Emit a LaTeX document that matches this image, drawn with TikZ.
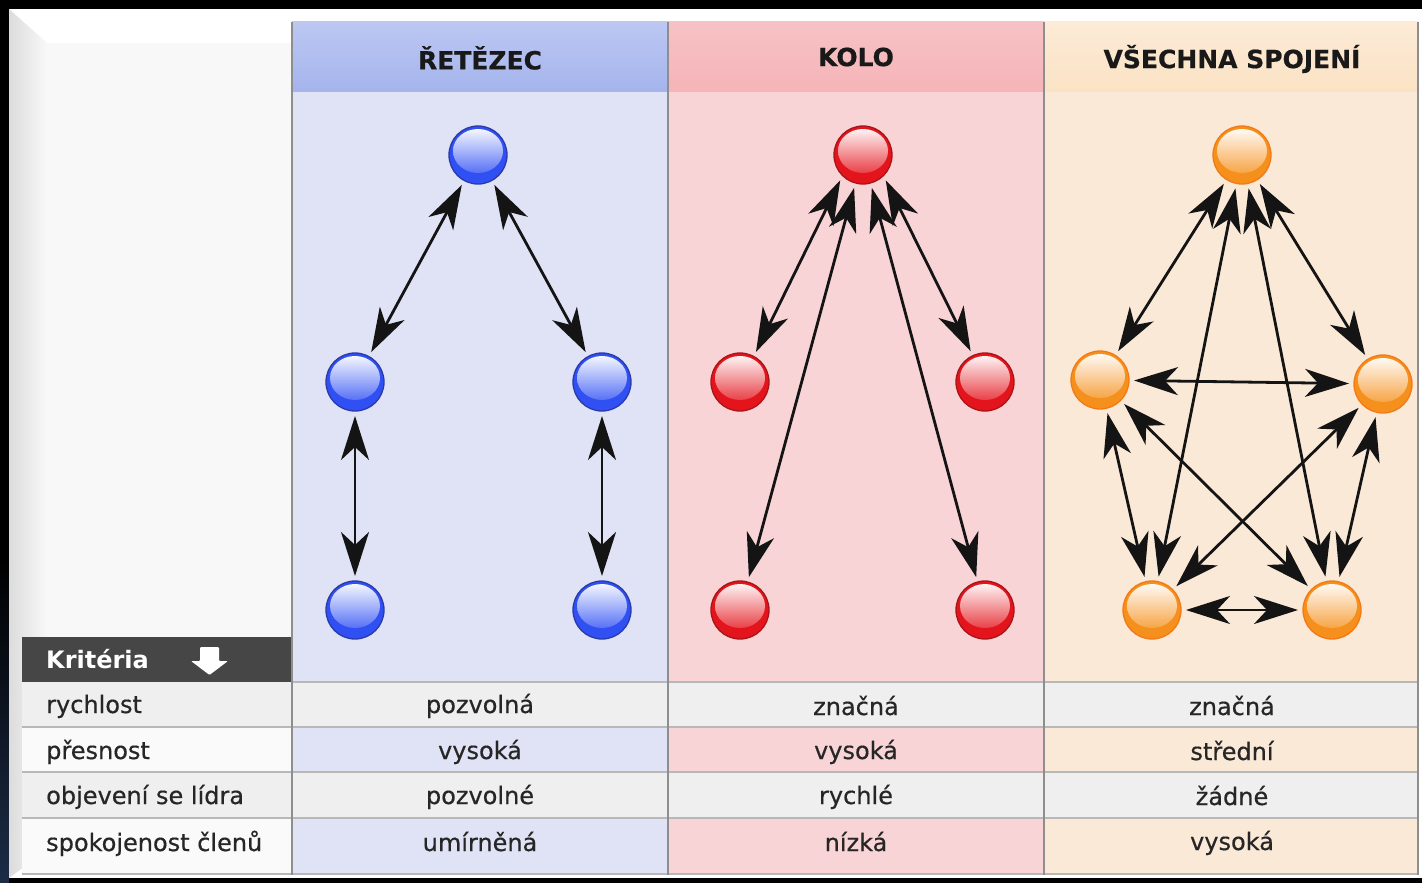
\documentclass[tikz,border=0pt]{standalone}
\usepackage{fontspec}
\setmainfont{DejaVu Sans}
\usetikzlibrary{arrows.meta,calc}
\definecolor{panelbg}{HTML}{F8F8F8}
\definecolor{bevelgray}{HTML}{DCDCDC}
\definecolor{bluehead}{HTML}{A4B4EC}
\definecolor{blueheadtop}{HTML}{BCC7F2}
\definecolor{bluebody}{HTML}{DFE3F5}
\definecolor{redhead}{HTML}{F5B4B8}
\definecolor{redheadtop}{HTML}{F7C2C5}
\definecolor{redbody}{HTML}{F9D4D7}
\definecolor{orahead}{HTML}{FBE2C4}
\definecolor{oraheadtop}{HTML}{FCEBD7}
\definecolor{orabody}{HTML}{FBE9D8}
\definecolor{rowgray}{HTML}{EFEFEF}
\definecolor{rowwhite}{HTML}{FAFAFA}
\definecolor{gridline}{HTML}{B8B8B8}
\definecolor{colline}{HTML}{8E8E8E}
\definecolor{kritbg}{HTML}{464646}
\definecolor{ballblue}{HTML}{3050F4}
\definecolor{ballblueedge}{HTML}{2A3AA8}
\definecolor{ballred}{HTML}{E4141C}
\definecolor{ballrededge}{HTML}{A81418}
\definecolor{ballora}{HTML}{F5901C}
\definecolor{balloraedge}{HTML}{F27A18}
\definecolor{txt}{HTML}{262626}
\definecolor{leftblue}{HTML}{1C2C46}
\tikzset{
  >={Stealth[length=44pt,width=28pt,inset=13pt]},
  conn/.style={<->, line width=2.8pt, draw=black!92},
  ball/.style 2 args={circle, minimum size=58pt, inner sep=0pt, outer sep=5pt,
    draw=#2, line width=1.3pt, fill=#1,
    path picture={\shade[top color=white, bottom color=#1]
      ($(path picture bounding box.center)+(0pt,4pt)$) ellipse (25pt and 22pt);}},
  bball/.style={ball={ballblue}{ballblueedge}},
  rball/.style={ball={ballred}{ballrededge}},
  oball/.style={ball={ballora}{balloraedge}},
  hdr/.style={font=\fontsize{25}{30}\selectfont\bfseries\addfontfeature{FakeBold=0.6}, text=black!90, inner sep=0pt},
  cell/.style={font=\fontsize{24}{28}\selectfont\addfontfeature{FakeBold=0.5}, text=txt, inner sep=0pt, text height=17pt, text depth=5pt},
  crit/.style={cell, anchor=west},
}
\begin{document}
\begin{tikzpicture}[x=1pt,y=-1pt]
\useasboundingbox (0,0) rectangle (1422,883);
% frame
\fill[black] (0,0) rectangle (1422,883);
\shade[top color=black, bottom color=leftblue] (0,560) rectangle (9,883);
\fill[white] (9,9) rectangle (1422,878);
\shade[left color=bevelgray, right color=panelbg] (9,9) -- (47,43) -- (47,850) -- (9,878) -- cycle;
\fill[panelbg] (47,43) rectangle (1418,862);
% column headers
\shade[top color=blueheadtop, bottom color=bluehead] (292,22) rectangle (668,92);
\shade[top color=redheadtop, bottom color=redhead] (668,22) rectangle (1044,92);
\shade[top color=oraheadtop, bottom color=orahead] (1044,22) rectangle (1418,92);
% column bodies
\fill[bluebody] (292,92) rectangle (668,682);
\fill[redbody] (668,92) rectangle (1044,682);
\fill[orabody] (1044,92) rectangle (1418,682);
% table rows
\fill[kritbg] (22,637) rectangle (292,682);
\fill[rowgray] (22,682) rectangle (1418,727);
\fill[rowwhite] (22,727) rectangle (292,772);
\fill[bluebody] (292,727) rectangle (668,772);
\fill[redbody] (668,727) rectangle (1044,772);
\fill[orabody] (1044,727) rectangle (1418,772);
\fill[rowgray] (22,772) rectangle (1418,818);
\fill[rowwhite] (22,818) rectangle (292,874);
\fill[bluebody] (292,818) rectangle (668,874);
\fill[redbody] (668,818) rectangle (1044,874);
\fill[orabody] (1044,818) rectangle (1418,874);
% grid lines
\draw[gridline, line width=1.2pt] (292,682) -- (1418,682);
\foreach \yy in {727,772,818,874} \draw[gridline, line width=1.6pt] (22,\yy) -- (1418,\yy);
\foreach \xx in {292,668,1044,1418} \draw[colline, line width=2pt] (\xx,22) -- (\xx,875);
% Kriteria arrow
\fill[white, rounded corners=1pt] (200,647) -- (219,647) -- (219,661) -- (228,661) -- (209.5,675) -- (191,661) -- (200,661) -- cycle;
% headers
\node[hdr] (h1) at (480,58) {ŘETĚZEC};
\node[hdr] (h2) at (856,57) {KOLO};
\node[hdr] (h3) at (1232,59) {VŠECHNA SPOJENÍ};
% criteria
\node[crit, text=white, font=\fontsize{24}{28}\selectfont\bfseries] (k0) at (46,662) {Kritéria};
\node[crit] (k1) at (46,707) {rychlost};
\node[crit] (k2) at (46,753) {přesnost};
\node[crit] (k3) at (46,798) {objevení se lídra};
\node[crit] (k4) at (46,845) {spokojenost členů};
% values
\node[cell] (v11) at (480,707) {pozvolná};
\node[cell] (v12) at (480,753) {vysoká};
\node[cell] (v13) at (480,798) {pozvolné};
\node[cell] (v14) at (480,845) {umírněná};
\node[cell] (v21) at (856,709) {značná};
\node[cell] (v22) at (856,753) {vysoká};
\node[cell] (v23) at (856,798) {rychlé};
\node[cell] (v24) at (856,845) {nízká};
\node[cell] (v31) at (1232,709) {značná};
\node[cell] (v32) at (1232,754) {střední};
\node[cell] (v33) at (1232,799) {žádné};
\node[cell] (v34) at (1232,844) {vysoká};
% chain
\node[bball] (b1) at (478,155) {};
\node[bball] (b2) at (355,382) {};
\node[bball] (b3) at (602,382) {};
\node[bball] (b4) at (355,610) {};
\node[bball] (b5) at (602,610) {};
\draw[conn] (b1) -- (b2);
\draw[conn] (b1) -- (b3);
\draw[conn] (b2) -- (b4);
\draw[conn] (b3) -- (b5);
% wheel
\node[rball] (r1) at (863,155) {};
\node[rball] (r2) at (740,382) {};
\node[rball] (r3) at (985,382) {};
\node[rball] (r4) at (740,610) {};
\node[rball] (r5) at (985,610) {};
\draw[conn] (r1.228) -- (r2.62);
\draw[conn] (r1.312) -- (r3.115);
\draw[conn] (r1) -- (r4);
\draw[conn] (r1) -- (r5);
% all channels
\node[oball] (o1) at (1242,155) {};
\node[oball] (o2) at (1100,380) {};
\node[oball] (o3) at (1383,384) {};
\node[oball] (o4) at (1152,610) {};
\node[oball] (o5) at (1332,610) {};
\draw[conn] (o1) -- (o2);
\draw[conn] (o1) -- (o3);
\draw[conn] (o1) -- (o4);
\draw[conn] (o1) -- (o5);
\draw[conn] (o2) -- (o3);
\draw[conn] (o2) -- (o4);
\draw[conn] (o2) -- (o5);
\draw[conn] (o3) -- (o4);
\draw[conn] (o3) -- (o5);
\draw[conn] (o4) -- (o5);
\end{tikzpicture}
\end{document}
